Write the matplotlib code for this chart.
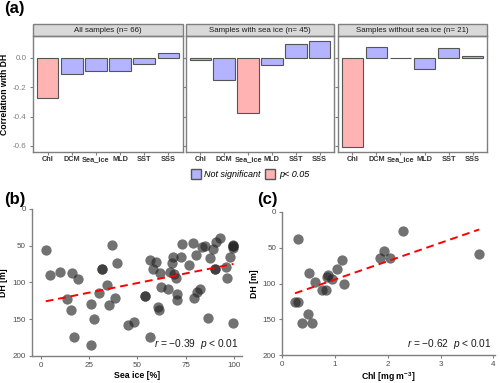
import numpy as np
import matplotlib.pyplot as plt
from matplotlib.patches import Rectangle, Patch

plt.rcParams['font.family'] = ['Liberation Sans', 'DejaVu Sans']
plt.rcParams['mathtext.fontset'] = 'custom'
plt.rcParams['mathtext.rm'] = 'Liberation Sans'
plt.rcParams['mathtext.it'] = 'Liberation Sans:italic'
plt.rcParams['mathtext.bf'] = 'Liberation Sans:bold'

# ---- data ----
variables = ['Chl', 'DCM', 'Sea_ice', 'MLD', 'SST', 'SSS']
groups = ['All samples (n= 66)', 'Samples with sea ice (n= 45)',
          'Samples without sea ice (n= 21)']
corr_all = [-0.275, -0.109, -0.089, -0.087, -0.043, 0.036]
corr_ice = [-0.016, -0.152, -0.377, -0.050, 0.098, 0.114]
corr_noice = [-0.605, 0.077, np.nan, -0.077, 0.066, 0.016]
sig_all = [True, False, False, False, False, False]
sig_ice = [False, False, True, False, False, False]
sig_noice = [True, False, False, False, False, False]

sea_ice = [2.6, 4.8, 10, 16.4, 19.3, 13.4, 15.5, 17.2, 25.8, 25.8, 27.7, 30.3,
           31.8, 31.8, 34.4, 36.9, 35.5, 38.6, 39.6, 45.1, 48.4, 54.2, 54.2,
           56.5, 56.5, 58.2, 59.6, 60.8, 61.2, 61.8, 62.2, 66, 66.9, 68.1,
           68.6, 69.8, 70.4, 70.7, 72.8, 73.3, 76.6, 78.8, 80.2, 79.2, 81,
           82.3, 83.5, 85, 86.6, 87.4, 89.2, 90.4, 90.4, 90.9, 92.6, 96,
           96.4, 98.1, 99.5, 99.5, 99.8, 99.8, 69, 99.5]
dh_ice = [55.5, 89.5, 85.5, 86.8, 96, 123, 137.7, 175, 185.5, 130, 149.5, 115,
          82.3, 82.3, 103, 49.5, 131, 121.8, 73, 158, 154, 119, 119,
          69.5, 174, 82.3, 72, 133, 138, 87.7, 107, 109, 85.4, 74,
          65, 94.5, 124, 115.5, 65, 48, 76.4, 46.8, 62.7, 121, 113,
          109, 51.4, 50.5, 148, 67.3, 55, 81.8, 81.8, 44.5, 40, 78.6,
          93.6, 65, 49, 53, 156, 51, 88, 50]

chl = [0.29, 0.24, 0.29, 0.37, 0.48, 0.56, 0.51, 0.62, 0.76, 0.82, 0.84,
       0.86, 0.95, 1.03, 1.14, 1.17, 1.86, 1.93, 2.04, 2.28, 3.73]
dh_chl = [38.3, 126, 126, 155.6, 142.5, 155.6, 85.5, 97.7, 109, 109, 91,
          88, 94, 79.4, 67.8, 100, 64.5, 55, 64.5, 26.6, 59]

W, H = 500, 383
fig = plt.figure(figsize=(W / 100, H / 100), dpi=100)


def rect(x0, y0, x1, y1):
    return [x0 / W, 1 - y1 / H, (x1 - x0) / W, (y1 - y0) / H]


# ---- panel (a) ----
blue, pink = '#B3B3FF', '#FFB3B3'
lefts = [(33, 183), (186, 334), (338, 487)]
series = [(corr_all, sig_all), (corr_ice, sig_ice), (corr_noice, sig_noice)]
xs = np.arange(1, len(variables) + 1)
for k, ((x0, x1), (vals, sig)) in enumerate(zip(lefts, series)):
    ax = fig.add_axes(rect(x0, 36, x1, 152))
    cols = [pink if s else blue for s in sig]
    ax.bar(xs, np.nan_to_num(vals), width=0.9, color=cols,
           edgecolor='#555555', linewidth=0.8)
    ax.set_xlim(0.4, 6.6)
    ax.set_ylim(-0.641, 0.15)
    ax.set_xticks(xs)
    ax.set_xticklabels([])
    # category labels drawn on a common baseline
    for xi, name in zip(xs, variables):
        ax.text(xi, -0.075, name, transform=ax.get_xaxis_transform(),
                ha='center', va='baseline', fontsize=5.3, fontweight='bold',
                color='#333333')
    ax.set_yticks([0, -0.2, -0.4, -0.6])
    if k == 0:
        ax.set_yticklabels(['0.0', '-0.2', '-0.4', '-0.6'], fontsize=5.8, color='#4D4D4D')
        ax.set_ylabel('Correlation with DH', fontsize=6.2, fontweight='bold', labelpad=3)
    else:
        ax.set_yticklabels([])
        ax.tick_params(axis='y', length=0)
    ax.tick_params(colors='#7F7F7F', length=2.5, width=0.8, pad=2)
    for s in ax.spines.values():
        s.set_color('#7F7F7F')
        s.set_linewidth(1.0)
    strip_h = 12 / 116
    ax.add_patch(Rectangle((0, 1), 1, strip_h, transform=ax.transAxes,
                           facecolor='#D9D9D9', edgecolor='#7F7F7F',
                           linewidth=1.0, clip_on=False))
    ax.text(0.5, 1 + strip_h / 2, groups[k], transform=ax.transAxes,
            ha='center', va='center', fontsize=5.7, color='#1A1A1A')

handles = [Patch(facecolor=blue, edgecolor='#555555', label='Not significant'),
           Patch(facecolor=pink, edgecolor='#555555', label='p< 0.05')]
fig.legend(handles=handles, loc='center', bbox_to_anchor=(0.5, 1 - 174 / H),
           ncol=2, frameon=False, handlelength=1.1, handleheight=1.3,
           columnspacing=0.5, handletextpad=0.4,
           prop={'style': 'italic', 'size': 6.5})

fig.text(4 / W, 1 - 9 / H, '(a)', fontsize=12, fontweight='bold', va='center')
fig.text(4 / W, 1 - 199 / H, '(b)', fontsize=12, fontweight='bold', va='center')
fig.text(257 / W, 1 - 199 / H, '(c)', fontsize=12, fontweight='bold', va='center')


# ---- panels (b) and (c) ----
def scatter_panel(pos, x, y, xlim, xticks, xlabel, note):
    ax = fig.add_axes(pos)
    ax.scatter(x, y, s=55, color='#262626', alpha=0.65, linewidths=0)
    slope, icpt = np.polyfit(x, y, 1)
    lx = np.array([min(x), max(x)])
    ax.plot(lx, icpt + slope * lx, color='red', linestyle='--', linewidth=1.4,
            dashes=(4, 2.5))
    ax.set_xlim(*xlim)
    ax.set_ylim(200, 0)
    ax.set_xticks(xticks)
    ax.set_yticks([0, 50, 100, 150, 200])
    ax.tick_params(colors='#7F7F7F', labelcolor='#4D4D4D', labelsize=5.8,
                   length=2.5, width=0.8, pad=2)
    for side in ['top', 'right']:
        ax.spines[side].set_visible(False)
    for side in ['left', 'bottom']:
        ax.spines[side].set_color('#7F7F7F')
        ax.spines[side].set_linewidth(1.0)
    ax.set_xlabel(xlabel, fontsize=6.3, fontweight='bold', labelpad=1.5)
    ax.set_ylabel('DH [m]', fontsize=6.3, fontweight='bold', labelpad=3)
    ax.text(0.985, 0.03, note, transform=ax.transAxes, ha='right', va='bottom',
            fontsize=7.3, color='#1A1A1A')
    return ax


scatter_panel(rect(32, 209, 242, 355.7), sea_ice, dh_ice, (-4.5, 104.2),
              [0, 25, 50, 75, 100], 'Sea ice [%]',
              r'$r$ = $-$0.39  $p$ < 0.01')
scatter_panel(rect(282.3, 212, 495, 355), chl, dh_chl, (0, 4.03),
              [0, 1, 2, 3, 4], r'Chl [mg m$^{\mathbf{-3}}$]',
              r'$r$ = $-$0.62  $p$ < 0.01')

fig.savefig('out.png', dpi=100)
